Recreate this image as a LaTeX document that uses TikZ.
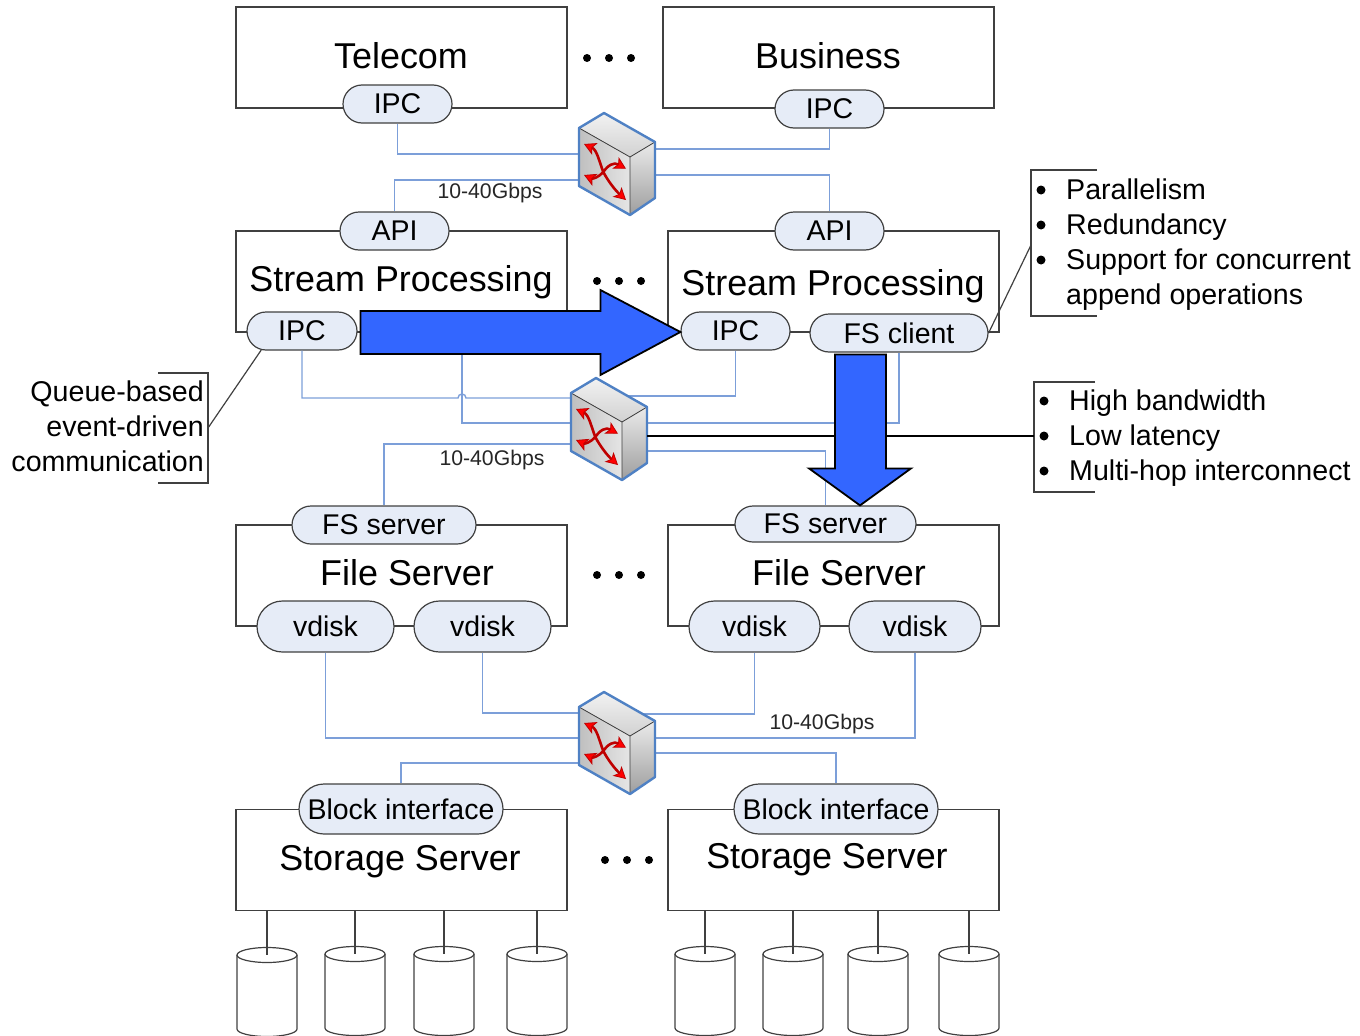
\documentclass[tikz,border=0pt]{standalone}
\usepackage{fontspec}
\setmainfont{Liberation Sans}
\usepackage{tikz}
\usetikzlibrary{shapes.misc, arrows.meta}
\definecolor{linegray}{HTML}{404040}
\definecolor{pillblue}{HTML}{E6ECF7}
\definecolor{fiberblue}{HTML}{7C9FD9}
\definecolor{edgeblue}{HTML}{4F81C4}
\definecolor{bigblue}{HTML}{3366FF}
\tikzset{
    boxnode/.style={draw=linegray, line width=1.2pt, minimum width=331pt, minimum height=101pt, inner sep=0pt},
    titlenode/.style={inner sep=0pt, font=\fontsize{35.9}{40}\selectfont},
    pillnode/.style={rounded rectangle, draw=linegray, line width=1.2pt, fill=pillblue, inner sep=0pt, font=\fontsize{28.5}{34}\selectfont},
    notenode/.style={inner sep=0pt, font=\fontsize{28.6}{35}\selectfont},
    ratenode/.style={inner sep=0pt, font=\fontsize{21.2}{24}\selectfont, text=black!85},
    switchspot/.style={inner sep=0pt, minimum width=76pt, minimum height=102pt},
    disknode/.style={inner sep=0pt, minimum width=60pt, minimum height=90pt},
    fiber/.style={draw=fiberblue, line width=1.4pt},
    thinline/.style={draw=linegray, line width=1.2pt},
    bigarrow/.style={draw=black, line width=1.8pt, fill=bigblue, line join=miter},
    redarrow/.style={draw=red!75!black, line width=2.6pt, {Stealth[length=12pt,width=13pt,inset=3pt,fill=red,line width=0.8pt]}-{Stealth[length=12pt,width=13pt,inset=3pt,fill=red,line width=0.8pt]}},
    diskbody/.pic={
        \draw[thinline] (-30,-37) -- (-30,37) arc[start angle=180, end angle=0, x radius=30, y radius=7.5] -- (30,-37);
        \draw[thinline] (0,-37) ellipse[x radius=30, y radius=7.5];
    },
    switchbox/.pic={
        \fill[top color=white!95!black, bottom color=white!82!black] (-38,-36) -- (-13,-51) -- (38,-22) -- (13,-7) -- cycle;
        \fill[left color=white!75!black, right color=white!90!black] (-38,-36) -- (13,-7) -- (13,51) -- (-38,22) -- cycle;
        \fill[top color=white!92!black, bottom color=white!62!black] (13,-7) -- (38,-22) -- (38,34) -- (13,51) -- cycle;
        \draw[black!75, line width=0.8pt] (-38,-36) -- (13,-7) -- (38,-22) (13,-7) -- (13,51);
        \draw[redarrow] (-33,-20) .. controls (-20,-14) and (-18,-3) .. (-13.7,8) .. controls (-9,17) and (-2,26) .. (9,36);
        \draw[redarrow] (-33,11) .. controls (-24,15) and (-18,13) .. (-13.7,8) .. controls (-9,1) and (-3,-2) .. (9,4.7);
        \draw[edgeblue, line width=2.4pt, line join=round] (-38,-36) -- (-13,-51) -- (38,-22) -- (38,34) -- (13,51) -- (-38,22) -- cycle;
    }
}
\begin{document}
\begin{tikzpicture}[x=1pt, y=-1pt]
    \useasboundingbox (0,0) rectangle (1360,1036);

    \draw
        (401.5, 57.5) node[boxnode](Telecom){}
        (828.5, 57.5) node[boxnode](Business){}
        (401.5, 281.5) node[boxnode](StreamL){}
        (833.5, 281.5) node[boxnode](StreamR){}
        (401.5, 575.5) node[boxnode](FileL){}
        (833.5, 575.5) node[boxnode](FileR){}
        (401.5, 860) node[boxnode](StorageL){}
        (833.5, 860) node[boxnode](StorageR){}
    ;
    \draw
        (401, 56) node[titlenode](TelecomText){Telecom}
        (828, 56) node[titlenode](BusinessText){Business}
        (401, 282) node[titlenode](StreamTextL){Stream Processing}
        (833, 286) node[titlenode](StreamTextR){Stream Processing}
        (407, 573) node[titlenode](FileTextL){File Server}
        (839, 573) node[titlenode](FileTextR){File Server}
        (400, 857) node[titlenode, text height=27pt, text depth=0pt](StorageTextL){Storage Server}
        (827, 855) node[titlenode, text height=27pt, text depth=0pt](StorageTextR){Storage Server}
    ;
    \draw
        (397.5, 104) node[pillnode, minimum width=109pt, minimum height=38pt](IpcTelecom){IPC}
        (829.5, 109) node[pillnode, minimum width=109pt, minimum height=38pt](IpcBusiness){IPC}
        (394.5, 231) node[pillnode, minimum width=109pt, minimum height=38pt](ApiL){API}
        (829.5, 231) node[pillnode, minimum width=109pt, minimum height=38pt](ApiR){API}
        (302, 331) node[pillnode, minimum width=110pt, minimum height=38pt](IpcL){IPC}
        (735.5, 331) node[pillnode, minimum width=109pt, minimum height=38pt](IpcR){IPC}
        (899, 333) node[pillnode, minimum width=178pt, minimum height=38pt](FsClient){FS client}
        (384, 525) node[pillnode, minimum width=184pt, minimum height=38pt](FsServerL){FS server}
        (825.5, 524) node[pillnode, minimum width=181pt, minimum height=36pt](FsServerR){FS server}
        (325.5, 626.5) node[pillnode, minimum width=137pt, minimum height=51pt](VdiskA){vdisk}
        (482.5, 626.5) node[pillnode, minimum width=137pt, minimum height=51pt](VdiskB){vdisk}
        (754.5, 626.5) node[pillnode, minimum width=131pt, minimum height=51pt](VdiskC){vdisk}
        (915, 626.5) node[pillnode, minimum width=132pt, minimum height=51pt](VdiskD){vdisk}
        (401, 809) node[pillnode, minimum width=204pt, minimum height=50pt](BlockL){Block interface}
        (836, 809) node[pillnode, minimum width=204pt, minimum height=50pt](BlockR){Block interface}
    ;
    \draw
        (267, 992) node[disknode](DiskA){}
        (355, 991) node[disknode](DiskB){}
        (444, 991) node[disknode](DiskC){}
        (537, 991) node[disknode](DiskD){}
        (705, 991) node[disknode](DiskE){}
        (793, 991) node[disknode](DiskF){}
        (878, 991) node[disknode](DiskG){}
        (969, 991) node[disknode](DiskH){}
    ;
    \path (DiskA) pic {diskbody};
    \path (DiskB) pic {diskbody};
    \path (DiskC) pic {diskbody};
    \path (DiskD) pic {diskbody};
    \path (DiskE) pic {diskbody};
    \path (DiskF) pic {diskbody};
    \path (DiskG) pic {diskbody};
    \path (DiskH) pic {diskbody};
    \draw[thinline] (StorageL.south -| DiskA.center) -- ([yshift=-8pt]DiskA.north);
    \draw[thinline] (StorageL.south -| DiskB.center) -- ([yshift=-8pt]DiskB.north);
    \draw[thinline] (StorageL.south -| DiskC.center) -- ([yshift=-8pt]DiskC.north);
    \draw[thinline] (StorageL.south -| DiskD.center) -- ([yshift=-8pt]DiskD.north);
    \draw[thinline] (StorageR.south -| DiskE.center) -- ([yshift=-8pt]DiskE.north);
    \draw[thinline] (StorageR.south -| DiskF.center) -- ([yshift=-8pt]DiskF.north);
    \draw[thinline] (StorageR.south -| DiskG.center) -- ([yshift=-8pt]DiskG.north);
    \draw[thinline] (StorageR.south -| DiskH.center) -- ([yshift=-8pt]DiskH.north);

    \draw
        (617, 164) node[switchspot](SwitchA){}
        (609, 429) node[switchspot](SwitchB){}
        (617, 743) node[switchspot](SwitchC){}
    ;
    \draw[fiber] (IpcTelecom.south) |- ([yshift=10pt]SwitchA.west);
    \draw[fiber] (ApiL.north) |- ([yshift=-16pt]SwitchA.west);
    \draw[fiber] (IpcBusiness.south) |- ([yshift=15pt]SwitchA.east);
    \draw[fiber] (ApiR.north) |- ([yshift=-11pt]SwitchA.east);

    \draw[fiber] (IpcL.south) |- (458, 398) arc[start angle=180, end angle=360, radius=4] -- ([yshift=31pt]SwitchB.west);
    \draw[fiber] (StreamL.south -| 462, 0) |- ([yshift=6pt]SwitchB.west);
    \draw[fiber] (FsServerL.north) |- ([yshift=-15pt]SwitchB.west);
    \draw[fiber] (IpcR.south) |- ([yshift=33pt]SwitchB.center);
    \draw[fiber] (FsClient.south) |- ([yshift=6pt]SwitchB.east);
    \draw[fiber] (FsServerR.north) |- ([yshift=-22pt]SwitchB.east);

    \draw[fiber] (VdiskA.south) |- ([yshift=5pt]SwitchC.west);
    \draw[fiber] (VdiskB.south) |- ([yshift=30pt]SwitchC.center);
    \draw[fiber] (VdiskC.south) |- ([yshift=29pt]SwitchC.center);
    \draw[fiber] (VdiskD.south) |- ([yshift=5pt]SwitchC.east);
    \draw[fiber] (BlockL.north) |- ([yshift=-20pt]SwitchC.west);
    \draw[fiber] (BlockR.north) |- ([yshift=-10pt]SwitchC.east);

    \path (SwitchA.center) pic {switchbox};
    \path (SwitchB.center) pic {switchbox};
    \path (SwitchC.center) pic {switchbox};

    \draw
        (490, 193) node[ratenode](RateA){10-40Gbps}
        (492, 460) node[ratenode](RateB){10-40Gbps}
        (822, 724) node[ratenode](RateC){10-40Gbps}
    ;
    \foreach \px/\py in {587/58, 609/58, 631/58, 597/281, 619/281, 641/281, 597/575, 619/575, 641/575, 605/860, 627/860, 649/860}
        \fill (\px, \py) circle[radius=4];

    \draw[thinline] (1097, 170) -- (1031, 170) -- (1031, 316) -- (1097, 316);
    \draw[thinline] (1095, 382) -- (1034, 382) -- (1034, 492) -- (1095, 492);
    \draw[thinline] (158, 373) -- (208, 373) -- (208, 483) -- (158, 483);
    \coordinate (NoteRedundancy) at (1031, 245);
    \coordinate (NoteLink) at (1034, 436);
    \coordinate (NoteQueue) at (208, 428);
    \draw[thinline] (FsClient.east) -- (NoteRedundancy);
    \draw[thinline] (IpcL.205) -- (NoteQueue);
    \draw[draw=black, line width=1.3pt] ([yshift=-7pt]SwitchB.east) -- (NoteLink);

    \draw
        (1066, 244.5) node[notenode, anchor=west, align=left](ListRedundancy){Parallelism\\Redundancy\\Support for concurrent\\append operations}
        (1069, 438) node[notenode, anchor=west, align=left](ListLink){High bandwidth\\Low latency\\Multi-hop interconnect}
        (204, 426.5) node[notenode, anchor=east, align=right](ListQueue){Queue-based\\event-driven\\communication}
    ;
    \fill (1041, 190) circle[radius=4.5] (1041, 225) circle[radius=4.5] (1041, 260) circle[radius=4.5];
    \fill (1044, 401) circle[radius=4.5] (1044, 436) circle[radius=4.5] (1044, 471) circle[radius=4.5];

    \draw[bigarrow] ([yshift=-1pt]IpcR.west) -- ++(-80, -42) -- ++(0, 21) -- ++(-240, 0) -- ++(0, 43) -- ++(240, 0) -- ++(0, 21) -- cycle;
    \draw[bigarrow] ([xshift=34.5pt]FsServerR.north) -- ++(-51, -37) -- ++(26, 0) -- ++(0, -114) -- ++(51, 0) -- ++(0, 114) -- ++(25, 0) -- cycle;
\end{tikzpicture}
\end{document}
